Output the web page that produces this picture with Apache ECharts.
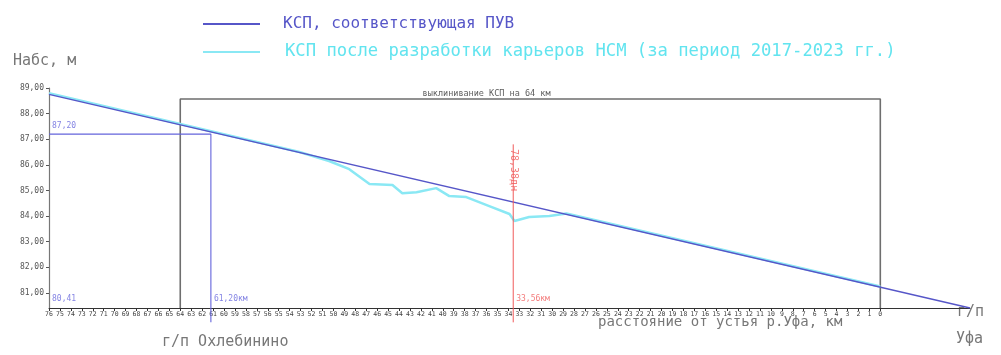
<!DOCTYPE html>
<html><head><meta charset="utf-8">
<script src="https://cdn.jsdelivr.net/npm/echarts@6/dist/echarts.min.js"></script>
<style>html,body{margin:0;padding:0;background:#fff}#c{width:1001px;height:355px}</style>
</head><body><div id="c"></div>
<script>
// ---- data ----
const kmTicks = [76,75,74,73,72,71,70,69,68,67,66,65,64,63,62,61,60,59,58,57,56,55,54,53,52,51,50,49,48,47,46,45,44,43,42,41,40,39,38,37,36,35,34,33,32,31,30,29,28,27,26,25,24,23,22,21,20,19,18,17,16,15,14,13,12,11,10,9,8,7,6,5,4,3,2,1,0];
const hTicks = [81,82,83,84,85,86,87,88,89];
const kmMin = -8.2, kmMax = 76, hMin = 80.41, hMax = 89;

const puvName = 'КСП, соответствующая ПУВ';
const puvKm = [76, -8.2];
const puvH  = [88.75, 80.41];

const afterName = 'КСП после разработки карьеров НСМ (за период 2017-2023 гг.)';
const afterKm = [76, 53.1, 50.4, 48.55, 46.7, 44.6, 43.7, 42.4, 40.6, 39.4, 37.85, 35.75, 33.9, 33.45, 32.1, 30.25, 28.7, 0];
const afterH  = [88.8, 86.5, 86.15, 85.83, 85.25, 85.21, 84.89, 84.93, 85.09, 84.78, 84.74, 84.39, 84.08, 83.81, 83.96, 84.0, 84.1, 81.25];

// pinch-out box
const boxKm = [64, 64, 0, 0];
const boxH  = [80.41, 88.57, 88.57, 80.41];
const boxTitle = 'выклинивание КСП на 64 км';
const boxTitleKm = 36, boxTitleH = 88.57;

// Okhlebinino gauge guide (blue)
const blueKm = [76, 61.2, 61.2];
const blueH  = [87.2, 87.2, 79.85];
// 33.56 km guide (red)
const redKm = [33.56, 33.56];
const redH  = [86.8, 79.85];

const noteKm   = [76, 76, 61.2, 33.56];
const noteH    = [87.2, 80.41, 80.41, 80.41];
const noteText = ['87,20', '80,41', '61,20км', '33,56км'];
const noteKind = ['blue', 'blue', 'blue', 'red'];
const redVText = '78,38дн', redVKm = 33.56, redVH = 85.6;

// ---- build ----
const zip = (a, b) => a.map((v, i) => [v, b[i]]);
const C = { purple:'#5656c8', cyan:'#8ae8f4', blue:'#6464dc', red:'#f05a5a', box:'#6e6e6e', text:'#555' };
const mono = "'DejaVu Sans Mono', monospace";

const notes = noteKm.map((k, i) => ({
  value: [k, noteH[i]],
  label: { show: true, formatter: noteText[i], position: 'right', distance: 3,
           offset: [0, i === 0 ? -8 : -9], fontSize: 8, fontFamily: mono,
           color: noteKind[i] === 'red' ? C.red : C.blue }
}));
notes.push({ value: [redVKm, redVH],
  label: { show: true, formatter: redVText, position: 'inside', rotate: -90,
           fontSize: 10, fontFamily: mono, color: C.red, offset: [-5, 0] } });
notes.push({ value: [boxTitleKm, boxTitleH],
  label: { show: true, formatter: boxTitle, position: 'top', distance: 1,
           fontSize: 8.5, fontFamily: mono, color: '#333' } });

const chart = echarts.init(document.getElementById('c'), null, { renderer: 'canvas' });
chart.setOption({
  animation: false,
  backgroundColor: '#fff',
  grid: { left: 49, right: 31, top: 88, bottom: 47, containLabel: false },
  legend: {
    orient: 'vertical', left: 198, top: 9, itemWidth: 57, itemHeight: 2, itemGap: 8,
    icon: 'rect', selectedMode: false,
    textStyle: { fontFamily: mono, lineHeight: 20 },
    data: [
      { name: puvName, textStyle: { color: C.purple, fontSize: 16, padding: [0, 0, 0, 18] } },
      { name: afterName, textStyle: { color: '#62e4ef', fontSize: 17.2, padding: [0, 0, 0, 20] } }
    ]
  },
  xAxis: {
    type: 'value', inverse: true, min: kmMin, max: kmMax,
    splitLine: { show: false },
    axisLine: { show: true, onZero: false, lineStyle: { color: '#333', width: 1 } },
    axisTick: { show: true, length: 3, customValues: kmTicks, lineStyle: { color: '#333' } },
    axisLabel: { customValues: kmTicks, fontSize: 6.5, fontFamily: mono, color: '#444', margin: 3,
                 formatter: v => String(Math.round(v)) }
  },
  yAxis: {
    type: 'value', min: hMin, max: hMax,
    splitLine: { show: false },
    axisLine: { show: true, onZero: false, lineStyle: { color: '#777', width: 1.2 } },
    axisTick: { show: true, length: 3, customValues: hTicks, lineStyle: { color: '#555' } },
    axisLabel: { customValues: hTicks, fontSize: 8, fontFamily: mono, color: C.text, margin: 5,
                 formatter: v => v.toFixed(2).replace('.', ',') }
  },
  graphic: [
    { type: 'text', left: 13, top: 54, style: { text: 'Набс, м', font: "15px 'DejaVu Sans Mono'", fill: '#777' } },
    { type: 'text', left: 162, top: 335, style: { text: 'г/п Охлебинино', font: "15px 'DejaVu Sans Mono'", fill: '#777' } },
    { type: 'text', left: 598, top: 315, style: { text: 'расстояние от устья р.Уфа, км', font: "14px 'DejaVu Sans Mono'", fill: '#777' } },
    { type: 'text', left: 957, top: 305, style: { text: 'г/п', font: "15px 'DejaVu Sans Mono'", fill: '#777' } },
    { type: 'text', left: 956, top: 332, style: { text: 'Уфа', font: "15px 'DejaVu Sans Mono'", fill: '#777' } }
  ],
  series: [
    { name: 'box', type: 'line', data: zip(boxKm, boxH), symbol: 'none', silent: true,
      lineStyle: { color: C.box, width: 1.6 }, z: 1 },
    { name: afterName, type: 'line', data: zip(afterKm, afterH), symbol: 'none', silent: true,
      color: C.cyan, lineStyle: { color: C.cyan, width: 2.5 }, z: 2 },
    { name: puvName, type: 'line', data: zip(puvKm, puvH), symbol: 'none', silent: true,
      color: C.purple, lineStyle: { color: C.purple, width: 1.4 }, z: 3 },
    { name: 'blue', type: 'line', data: zip(blueKm, blueH), symbol: 'none', silent: true, clip: false,
      lineStyle: { color: C.blue, width: 1.1 }, z: 4 },
    { name: 'red', type: 'line', data: zip(redKm, redH), symbol: 'none', silent: true, clip: false,
      lineStyle: { color: C.red, width: 1 }, z: 4 },
    { name: 'notes', type: 'scatter', symbolSize: 0, silent: true, clip: false, data: notes, z: 5 }
  ]
});
</script></body></html>
